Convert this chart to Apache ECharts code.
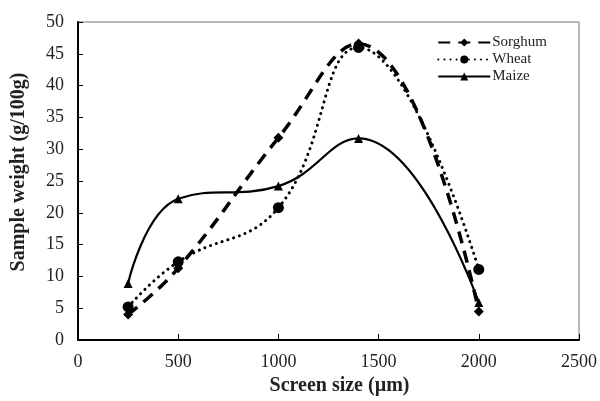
<!DOCTYPE html>
<html><head><meta charset="utf-8">
<script src="https://cdn.jsdelivr.net/npm/echarts@6/dist/echarts.min.js"></script>
<style>html,body{margin:0;padding:0;background:#fff}#c{width:600px;height:401px}</style>
</head><body><div id="c"></div>
<script>
const screenSizes = [250, 500, 1000, 1400, 2000];
const sorghum = [4.0, 11.3, 31.8, 46.6, 4.5];
const wheat = [5.2, 12.3, 20.8, 46.0, 11.1];
const maize = [8.9, 22.2, 24.2, 31.7, 5.9];
const seriesNames = ['Sorghum', 'Wheat', 'Maize'];

const pairs = v => screenSizes.map((x, i) => [x, v[i]]);
const font = 'Liberation Serif';
const chart = echarts.init(document.getElementById('c'));
chart.setOption({
  animation: false,
  grid: { left: 78, right: 20, top: 22, bottom: 57, show: true, borderColor: '#777', borderWidth: 1 },
  legend: {
    right: 48, top: 30, orient: 'vertical', itemWidth: 52, itemHeight: 10, itemGap: 2,
    textStyle: { fontFamily: font, fontSize: 15, color: '#222', padding: [0,0,0,-3] },
    data: seriesNames
  },
  xAxis: {
    type: 'value', min: 0, max: 2500, interval: 500,
    name: 'Screen size (µm)', nameLocation: 'middle', nameGap: 36,
    nameTextStyle: { fontFamily: font, fontSize: 20, fontWeight: 'bold', color: '#222', padding: [0, 0, 0, 22] },
    axisLine: { lineStyle: { color: '#000', width: 2 } },
    axisTick: { inside: true, length: 6, lineStyle: { color: '#000', width: 1 } },
    axisLabel: { fontFamily: font, fontSize: 18, color: '#222', margin: 13, formatter: v => String(v) },
    splitLine: { show: false }
  },
  yAxis: {
    type: 'value', min: 0, max: 50, interval: 5,
    name: 'Sample weight (g/100g)', nameLocation: 'middle', nameGap: 49,
    nameTextStyle: { fontFamily: font, fontSize: 20, fontWeight: 'bold', color: '#222', padding: [0, 0, 0, 18] },
    axisLine: { show: true, lineStyle: { color: '#000', width: 2 } },
    axisTick: { show: true, inside: true, length: 5, lineStyle: { color: '#000', width: 1 } },
    axisLabel: { fontFamily: font, fontSize: 18, color: '#222', margin: 14 },
    splitLine: { show: false }
  },
  series: [
    { name: seriesNames[0], type: 'line', data: pairs(sorghum), smooth: 0.45,
      symbol: 'diamond', symbolSize: 10, itemStyle: { color: '#000' },
      lineStyle: { color: '#000', width: 3.5, type: [12, 8] }, z: 3 },
    { name: seriesNames[1], type: 'line', data: pairs(wheat), smooth: 0.45,
      symbol: 'circle', symbolSize: 11, itemStyle: { color: '#000' },
      lineStyle: { color: '#000', width: 3, type: [0.1, 6], cap: 'round' }, z: 4 },
    { name: seriesNames[2], type: 'line', data: pairs(maize), smooth: 0.45,
      symbol: 'triangle', symbolSize: 9, itemStyle: { color: '#000' },
      lineStyle: { color: '#000', width: 2.2 }, z: 2 }
  ]
});
</script></body></html>
